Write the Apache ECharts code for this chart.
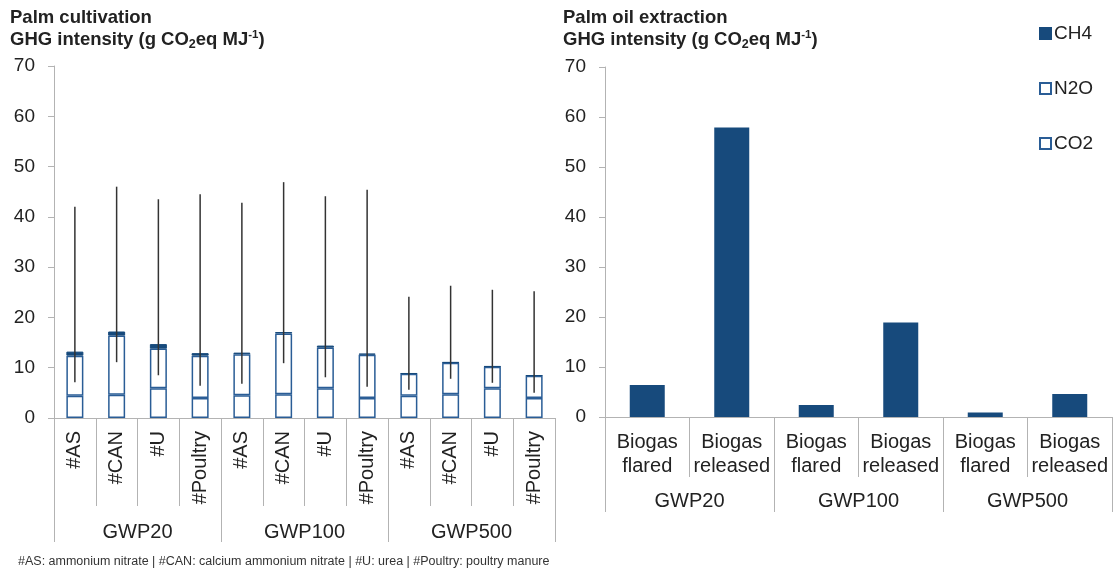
<!DOCTYPE html>
<html>
<head>
<meta charset="utf-8">
<script src="https://cdn.jsdelivr.net/npm/echarts@6/dist/echarts.min.js"></script>
<style>
  html, body { margin: 0; padding: 0; background: #fff; }
  #chart { width: 1114px; height: 569px; }
</style>
</head>
<body>
<div id="chart"></div>
<script>
// left panel: palm cultivation
var cultCats = ['#AS', '#CAN', '#U', '#Poultry', '#AS', '#CAN', '#U', '#Poultry', '#AS', '#CAN', '#U', '#Poultry'];
var gwpGroups = ['GWP20', 'GWP100', 'GWP500'];
var cultCO2 = [4.4, 4.6, 5.9, 4.0, 4.5, 4.7, 5.9, 4.0, 4.4, 4.7, 5.9, 4.0];
var cultN2O = [8.0, 11.8, 7.9, 8.4, 8.2, 12.1, 8.1, 8.6, 4.4, 6.3, 4.3, 4.4];
var cultCH4 = [0.8, 0.8, 0.9, 0.5, 0.3, 0.3, 0.4, 0.2, 0.1, 0.1, 0.1, 0.1];
var errLow = [7.1, 11.1, 8.5, 6.4, 6.8, 10.9, 8.1, 6.2, 5.6, 7.8, 7.0, 5.0];
var errHigh = [42.0, 46.0, 43.5, 44.5, 42.8, 46.9, 44.1, 45.4, 24.1, 26.3, 25.5, 25.2];

// right panel: palm oil extraction
var extCats = ['Biogas\nflared', 'Biogas\nreleased', 'Biogas\nflared', 'Biogas\nreleased', 'Biogas\nflared', 'Biogas\nreleased'];
var extCH4 = [6.4, 57.9, 2.4, 18.9, 0.9, 4.6];

var yTicks = { min: 0, max: 70, interval: 10 };

var dark = '#174a7c';
var edge = '#2a5d96';
var grey = '#b3b3b3';
var txt = '#222';
var fnt = 'Liberation Sans, Arial, sans-serif';

var titleRich = {
  n: { fontSize: 18.5, fontWeight: 'bold', color: txt, fontFamily: fnt },
  s: { fontSize: 12.5, fontWeight: 'bold', color: txt, fontFamily: fnt, verticalAlign: 'bottom', padding: [8, 0, 0, 0] },
  p: { fontSize: 11.5, fontWeight: 'bold', color: txt, fontFamily: fnt, verticalAlign: 'top', padding: [0, 0, 7, 0] }
};
var unitLine = '{n|GHG intensity (g CO}{s|2}{n|eq MJ}{p|-1}{n|)}';

function yAxisFor(grid) {
  return {
    type: 'value', gridIndex: grid, min: yTicks.min, max: yTicks.max, interval: yTicks.interval,
    splitLine: { show: false },
    axisLine: { show: true, lineStyle: { color: grey } },
    axisTick: { show: true, length: 6, lineStyle: { color: grey } },
    axisLabel: { margin: 19, fontSize: 19, color: txt, fontFamily: fnt }
  };
}

function catAxis(grid, data, tickLen, label) {
  return {
    type: 'category', gridIndex: grid, position: 'bottom', data: data, boundaryGap: true,
    axisLine: { show: true, lineStyle: { color: grey } },
    axisTick: { show: true, interval: 0, length: tickLen, lineStyle: { color: grey } },
    axisLabel: Object.assign({ interval: 0, fontSize: 20, color: txt, fontFamily: fnt }, label)
  };
}

var chart = echarts.init(document.getElementById('chart'));
chart.setOption({
  animation: false,
  title: [
    { left: 10, top: 7, padding: 0, text: '{n|Palm cultivation}\n' + unitLine, textStyle: { lineHeight: 22, rich: titleRich } },
    { left: 563, top: 7, padding: 0, text: '{n|Palm oil extraction}\n' + unitLine, textStyle: { lineHeight: 22, rich: titleRich } }
  ],
  legend: {
    orient: 'vertical', left: 1039, top: 24, padding: 0,
    itemWidth: 11, itemHeight: 11, itemGap: 36, icon: 'rect',
    data: ['CH4', 'N2O', 'CO2'],
    textStyle: { fontSize: 19, color: txt, fontFamily: fnt, padding: [0, 0, 0, -2] }
  },
  grid: [
    { left: 54, top: 66, width: 501, height: 352 },
    { left: 605, top: 67, width: 507, height: 350 }
  ],
  xAxis: [
    catAxis(0, cultCats, 88, { rotate: 90, margin: 13 }),
    catAxis(0, gwpGroups, 124, { margin: 104 }),
    catAxis(1, extCats, 60, { margin: 13, lineHeight: 24 }),
    catAxis(1, gwpGroups, 95, { margin: 74 })
  ],
  yAxis: [yAxisFor(0), yAxisFor(1)],
  series: [
    {
      name: 'CO2', type: 'bar', stack: 'cult', xAxisIndex: 0, yAxisIndex: 0, barWidth: 17,
      itemStyle: { color: '#fff', borderColor: edge, borderWidth: 1.5 },
      data: cultCO2
    },
    {
      name: 'N2O', type: 'bar', stack: 'cult', xAxisIndex: 0, yAxisIndex: 0, barWidth: 17,
      itemStyle: { color: '#fff', borderColor: edge, borderWidth: 1.5 },
      data: cultN2O
    },
    {
      name: 'CH4', type: 'bar', stack: 'cult', xAxisIndex: 0, yAxisIndex: 0, barWidth: 17,
      itemStyle: { color: dark, borderColor: dark, borderWidth: 1 },
      data: cultCH4
    },
    {
      name: 'range', type: 'custom', xAxisIndex: 0, yAxisIndex: 0, z: 5,
      renderItem: function (params, api) {
        var x = api.value(0);
        var lo = api.coord([x, api.value(1)]);
        var hi = api.coord([x, api.value(2)]);
        return {
          type: 'line',
          shape: { x1: lo[0], y1: lo[1], x2: hi[0], y2: hi[1] },
          style: { stroke: '#333', lineWidth: 1.5 }
        };
      },
      encode: { x: 0, y: [1, 2] },
      data: errLow.map(function (v, i) { return [i, v, errHigh[i]]; })
    },
    {
      name: 'CH4', type: 'bar', xAxisIndex: 2, yAxisIndex: 1, barWidth: 35,
      itemStyle: { color: dark },
      data: extCH4
    }
  ],
  graphic: [
    {
      type: 'text', left: 18, top: 555,
      style: {
        text: '#AS: ammonium nitrate | #CAN: calcium ammonium nitrate | #U: urea | #Poultry: poultry manure',
        fontSize: 12.5, fill: '#333', fontFamily: fnt
      }
    }
  ]
});
</script>
</body>
</html>
